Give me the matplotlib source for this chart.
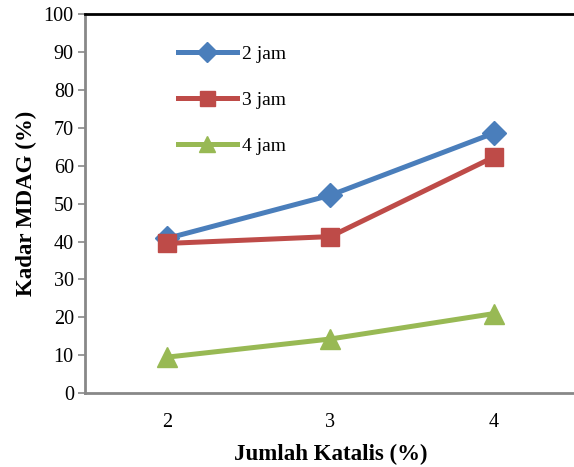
import matplotlib.pyplot as plt

# data
katalis = [2, 3, 4]
jam2 = [40.8, 52.2, 68.6]
jam3 = [39.5, 41.3, 62.3]
jam4 = [9.5, 14.3, 21.0]

plt.rcParams['font.family'] = ['Liberation Serif', 'DejaVu Serif']

fig = plt.figure(figsize=(5.74, 4.67), dpi=100)
ax = fig.add_axes([0.148, 0.158, 0.855, 0.812])

ax.plot(katalis, jam2, color='#4A7EBB', lw=3.6, marker='D', ms=12.5, label='2 jam')
ax.plot(katalis, jam3, color='#BE4B48', lw=3.6, marker='s', ms=13.5, label='3 jam')
ax.plot(katalis, jam4, color='#98B954', lw=3.6, marker='^', ms=14, label='4 jam')

ax.set_xlim(1.5, 4.5)
ax.set_ylim(0, 100)
ax.set_xticks(katalis)
ax.set_yticks(range(0, 101, 10))
ax.tick_params(axis='x', length=0, pad=14, labelsize=14.5)
ax.tick_params(axis='y', length=5, color='#888888', width=1.2, labelsize=14.5, pad=3)

ax.spines['left'].set_color('#888888')
ax.spines['left'].set_linewidth(2)
ax.spines['bottom'].set_color('#888888')
ax.spines['bottom'].set_linewidth(2)
ax.spines['top'].set_color('black')
ax.spines['top'].set_linewidth(2)
ax.spines['right'].set_visible(False)

ax.set_xlabel('Jumlah Katalis (%)', fontsize=16.5, fontweight='bold', labelpad=9)
ax.set_ylabel('Kadar MDAG (%)', fontsize=16.5, fontweight='bold', labelpad=5)

ax.legend(loc='upper left', bbox_to_anchor=(0.19, 0.917), frameon=False,
          fontsize=14, handlelength=3.0, labelspacing=1.45, markerscale=0.8,
          handletextpad=0.3, borderpad=0, borderaxespad=0)

fig.savefig('out.png', dpi=100)
